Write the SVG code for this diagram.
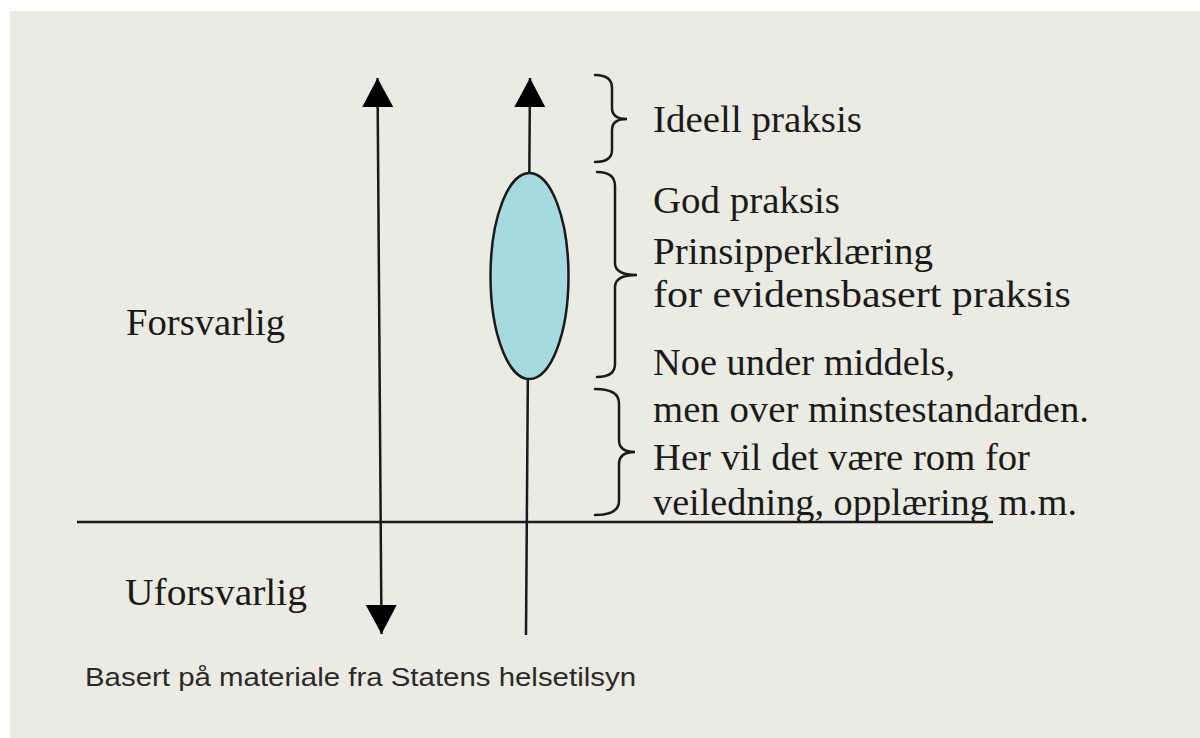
<svg xmlns="http://www.w3.org/2000/svg" width="1200" height="738" viewBox="0 0 1200 738">
<style>
.bg{fill:#ebeae3}
.t{font-family:"Liberation Serif","Times New Roman",serif;font-size:37px;fill:#1a1a1a}
.s{font-family:"Liberation Sans",Arial,sans-serif;font-size:26px;fill:#2a2a2a}
.ln{stroke:#1a1a1a;stroke-width:2.5;fill:none}
.br{stroke:#1a1a1a;stroke-width:2.5;fill:none;stroke-linecap:round}
</style>
<defs>
<marker id="ah" markerUnits="userSpaceOnUse" markerWidth="30" markerHeight="32" viewBox="0 0 30 32" refX="29" refY="16" orient="auto-start-reverse">
<path d="M0,0.5 L29,16 L0,31.5 z" fill="#000"/>
</marker>
</defs>
<rect x="0" y="0" width="1200" height="738" fill="#ffffff"/>
<rect class="bg" x="10" y="11" width="1190" height="727"/>
<g id="connectors">
<line class="ln" x1="77" y1="522" x2="993" y2="522"/>
<line class="ln" x1="377.5" y1="78" x2="381.5" y2="634" marker-start="url(#ah)" marker-end="url(#ah)"/>
<line class="ln" x1="526" y1="635" x2="530" y2="78" marker-end="url(#ah)"/>
</g>
<g id="ellipse">
<ellipse cx="529.5" cy="276" rx="39" ry="103" fill="#a6d9e0" stroke="#1a1a1a" stroke-width="2.5"/>
</g>
<g id="brace-ideell">
<path class="br" d="M595,75 Q612,75 612,88 L612,108 Q612,119 627,119 Q612,119 612,130 L612,150 Q612,162 595,162"/>
<text class="t" x="653" y="132" textLength="209" lengthAdjust="spacingAndGlyphs">Ideell praksis</text>
</g>
<g id="brace-god">
<path class="br" d="M597,172 Q615,172 615,186 L615,263 Q615,275 637,275 Q615,275 615,287 L615,364 Q615,377 597,377"/>
<text class="t" x="653" y="213" textLength="187" lengthAdjust="spacingAndGlyphs">God praksis</text>
<text class="t" x="653" y="264" textLength="280" lengthAdjust="spacingAndGlyphs">Prinsipperklæring</text>
<text class="t" x="653" y="307" textLength="418" lengthAdjust="spacingAndGlyphs">for evidensbasert praksis</text>
</g>
<g id="brace-noe">
<path class="br" d="M595,389 Q619,389 619,403 L619,440 Q619,452 635,452 Q619,452 619,464 L619,501 Q619,515 595,515"/>
<text class="t" x="653" y="375" textLength="302" lengthAdjust="spacingAndGlyphs">Noe under middels,</text>
<text class="t" x="653" y="422" textLength="436" lengthAdjust="spacingAndGlyphs">men over minstestandarden.</text>
<text class="t" x="653" y="470" textLength="377" lengthAdjust="spacingAndGlyphs">Her vil det være rom for</text>
<text class="t" x="653" y="515" textLength="424" lengthAdjust="spacingAndGlyphs">veiledning, opplæring m.m.</text>
</g>
<g id="forsvarlig">
<text class="t" x="126" y="335" textLength="159" lengthAdjust="spacingAndGlyphs">Forsvarlig</text>
</g>
<g id="uforsvarlig">
<text class="t" x="125" y="605" textLength="182" lengthAdjust="spacingAndGlyphs">Uforsvarlig</text>
</g>
<g id="source">
<text class="s" x="85" y="686" textLength="551" lengthAdjust="spacingAndGlyphs">Basert på materiale fra Statens helsetilsyn</text>
</g>
</svg>
